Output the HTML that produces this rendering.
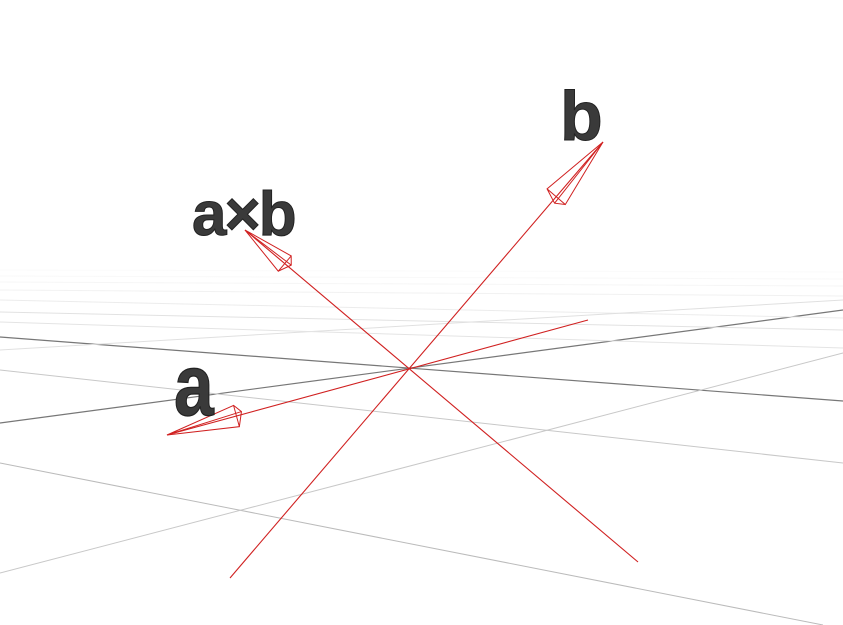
<!DOCTYPE html>
<html><head><meta charset="utf-8"><style>
html,body{margin:0;padding:0;background:#fff;}
svg{display:block;}
text{font-family:"Liberation Sans","DejaVu Sans",sans-serif;font-weight:bold;fill:#3a3a3a;stroke:#222;stroke-width:1;}
</style></head><body>
<svg id="scene" width="843" height="625" viewBox="0 0 843 625" xmlns="http://www.w3.org/2000/svg">
<defs>
<linearGradient id="haze" x1="0" y1="0" x2="0" y2="1">
<stop offset="0" stop-color="#fff" stop-opacity="1"/>
<stop offset="1" stop-color="#fff" stop-opacity="0"/>
</linearGradient>
</defs>
<g id="grid"></g>
<rect x="0" y="240" width="843" height="60" fill="url(#haze)"/>
<g id="vectors"></g>
<text x="560" y="140" font-size="70">b</text>
<text x="192" y="235" font-size="62" letter-spacing="-2">a×b</text>
<text x="0" y="0" font-size="70" transform="translate(174,415) scale(1.02,1.25)">a</text>
</svg>
<script>
// ground grid lines: [x1,y1,x2,y2,color,width]
const gridLines = [
 [0,337,843,401,'#777',1.2],
 [0,423,843,310,'#777',1.2],
 [0,370,843,463,'#c8c8c8',1],
 [0,463,823,625,'#bbb',1],
 [0,573,843,353,'#c8c8c8',1],
 [0,312,843,330,'#e2e2e2',1],
 [0,300,843,318,'#ececec',1],
 [0,350,843,300,'#e0e0e0',1],
 [0,322,843,348,'#e4e4e4',1],
 [0,290,843,296,'#f0f0f0',1],
 [0,282,843,286,'#f3f3f3',1],
 [0,276,843,279,'#f5f5f5',1],
 [0,270,843,272,'#f7f7f7',1]
];
// vectors: [tailX,tailY,tipX,tipY]
const vectorNames = ['vector-a','vector-b','vector-a-cross-b'];
const vectorTails = [[588,320],[230,578],[638,562]];
const vectorTips  = [[167,435],[603,142],[245,230]];
const coneLen = [72,72,52];
const coneW = [11,12,10];
const ns='http://www.w3.org/2000/svg';
const g=document.getElementById('grid');
gridLines.forEach((l,i)=>{
 const e=document.createElementNS(ns,'line');
 e.setAttribute('x1',l[0]);e.setAttribute('y1',l[1]);e.setAttribute('x2',l[2]);e.setAttribute('y2',l[3]);
 e.setAttribute('stroke',l[4]);e.setAttribute('stroke-width',l[5]);
 
 
 g.appendChild(e);
});
const v=document.getElementById('vectors');
vectorNames.forEach((n,i)=>{
 const [x1,y1]=vectorTails[i],[x2,y2]=vectorTips[i];
 const grp=document.createElementNS(ns,'g');
 
 
 const ln=document.createElementNS(ns,'line');
 ln.setAttribute('x1',x1);ln.setAttribute('y1',y1);ln.setAttribute('x2',x2);ln.setAttribute('y2',y2);
 ln.setAttribute('stroke','#d02020');ln.setAttribute('stroke-width',1.1);
 grp.appendChild(ln);
 const dx=x2-x1,dy=y2-y1,L=Math.hypot(dx,dy),ux=dx/L,uy=dy/L,px=-uy,py=ux;
 const bx=x2-ux*coneLen[i],by=y2-uy*coneLen[i],w=coneW[i];
 const p1=[bx+px*w,by+py*w],p2=[bx-px*w,by-py*w],p3=[bx-ux*6+px*3,by-uy*6+py*3];
 const cone=document.createElementNS(ns,'path');
 cone.setAttribute('d',`M${x2},${y2}L${p1}L${p2}Z M${x2},${y2}L${p3} M${p1}L${p3}L${p2}`);
 cone.setAttribute('fill','none');cone.setAttribute('stroke','#d02020');cone.setAttribute('stroke-width',1);
 
 
 grp.appendChild(cone);
 v.appendChild(grp);
});
</script>
</body></html>
